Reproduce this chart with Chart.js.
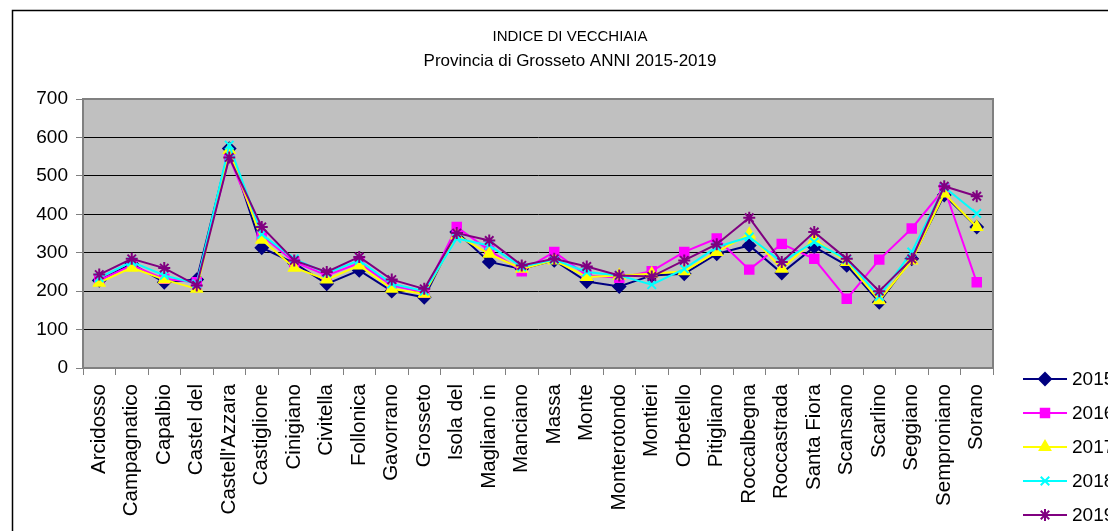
<!DOCTYPE html>
<html>
<head>
<meta charset="utf-8">
<script src="https://cdn.jsdelivr.net/npm/chart.js@4/dist/chart.umd.min.js"></script>
<style>
html, body { margin: 0; padding: 0; background: #fff; overflow: hidden; }
#wrap { width: 1108px; height: 531px; }
</style>
</head>
<body>
<div id="wrap"><canvas id="chart" width="1108" height="531"></canvas></div>
<script>
const comuni = ['Arcidosso', 'Campagnatico', 'Capalbio', 'Castel del', "Castell'Azzara", 'Castiglione',
    'Cinigiano', 'Civitella', 'Follonica', 'Gavorrano', 'Grosseto', 'Isola del', 'Magliano in',
    'Manciano', 'Massa', 'Monte', 'Monterotondo', 'Montieri', 'Orbetello', 'Pitigliano',
    'Roccalbegna', 'Roccastrada', 'Santa Fiora', 'Scansano', 'Scarlino', 'Seggiano',
    'Semproniano', 'Sorano'];
const anni = ['2015', '2016', '2017', '2018', '2019'];
const yTicks = [0, 100, 200, 300, 400, 500, 600, 700];

const v2015 = [228, 271, 223, 230, 571, 313, 273, 219, 254, 200, 184, 354, 276, 258, 280, 225, 212, 241, 245, 297, 319, 247, 315, 267, 171, 284, 450, 367];
const v2016 = [228, 267, 232, 223, 548, 345, 276, 241, 273, 215, 196, 367, 306, 252, 302, 241, 235, 252, 302, 337, 256, 323, 284, 180, 282, 363, 467, 223];
const v2017 = [222, 261, 230, 206, 567, 334, 261, 230, 267, 206, 193, 345, 297, 258, 280, 237, 241, 245, 252, 302, 348, 258, 334, 276, 176, 280, 454, 367];
const v2018 = [235, 276, 241, 219, 580, 348, 284, 247, 280, 219, 200, 337, 319, 263, 282, 250, 241, 217, 258, 315, 341, 276, 328, 282, 186, 302, 471, 402];
const v2019 = [243, 284, 260, 215, 548, 367, 280, 250, 289, 230, 206, 351, 332, 267, 284, 264, 241, 238, 280, 322, 391, 276, 354, 284, 200, 284, 473, 447];

const serie = [v2015, v2016, v2017, v2018, v2019];
const colori = ['#000080', '#FF00FF', '#FFFF00', '#00FFFF', '#800080'];
const simboli = ['rectRot', 'rect', 'triangle', 'crossRot', 'star'];

const FONT = "'Liberation Sans', Arial, sans-serif";

// sfondo, bordo esterno, titolo, legenda
const cornice = {
    id: 'cornice',
    beforeDraw(chart) {
        const ctx = chart.ctx;
        const a = chart.chartArea;
        ctx.save();
        ctx.fillStyle = '#fff';
        ctx.fillRect(0, 0, chart.width, chart.height);
        ctx.strokeStyle = '#000';
        ctx.lineWidth = 1.5;
        ctx.strokeRect(12.5, 10.5, 2000, 2000);
        ctx.fillStyle = '#C0C0C0';
        ctx.fillRect(a.left, a.top, a.right - a.left, a.bottom - a.top);
        ctx.restore();
    },
    afterDraw(chart) {
        const ctx = chart.ctx;
        const a = chart.chartArea;
        ctx.save();
        ctx.strokeStyle = '#808080';
        ctx.lineWidth = 2;
        ctx.strokeRect(a.left, a.top, a.right - a.left, a.bottom - a.top);

        ctx.fillStyle = '#000';
        ctx.textAlign = 'center';
        ctx.textBaseline = 'middle';
        ctx.font = '15px ' + FONT;
        ctx.fillText('INDICE DI VECCHIAIA', 570, 37);
        ctx.font = '17px ' + FONT;
        ctx.fillText('Provincia di Grosseto ANNI 2015-2019', 570, 61);

        ctx.textAlign = 'left';
        ctx.font = '19px ' + FONT;
        chart.data.datasets.forEach((ds, i) => {
            const y = 379 + i * 34;
            ctx.strokeStyle = ds.borderColor;
            ctx.fillStyle = ds.borderColor;
            ctx.lineWidth = 2;
            ctx.beginPath();
            ctx.moveTo(1023, y);
            ctx.lineTo(1067, y);
            ctx.stroke();
            Chart.helpers.drawPoint(ctx, {pointStyle: ds.pointStyle, radius: 6, borderWidth: 2, rotation: 0}, 1045, y);
            ctx.fillStyle = '#000';
            ctx.fillText(ds.label, 1072, y + 1);
        });
        ctx.restore();
    }
};

new Chart(document.getElementById('chart'), {
    type: 'line',
    data: {
        labels: comuni,
        datasets: anni.map((anno, i) => ({
            label: anno,
            data: serie[i],
            borderColor: colori[i],
            backgroundColor: colori[i],
            borderWidth: 2,
            pointStyle: simboli[i],
            pointRadius: 6,
            pointBorderWidth: 2,
            tension: 0,
            order: 5 - i
        }))
    },
    options: {
        responsive: false,
        devicePixelRatio: 1,
        animation: false,
        layout: { padding: { left: 0, top: 99, right: 115, bottom: 0 } },
        plugins: {
            legend: { display: false },
            title: { display: false },
            tooltip: { enabled: false }
        },
        scales: {
            x: {
                offset: true,
                afterFit(scale) { scale.height = 163; },
                border: { color: '#808080', width: 2 },
                grid: { offset: true, drawOnChartArea: false, color: '#808080', tickLength: 7 },
                ticks: {
                    minRotation: 90, maxRotation: 90, autoSkip: false,
                    color: '#000', padding: 9,
                    font: { family: FONT, size: 20.5 }
                }
            },
            y: {
                min: 0, max: 700,
                afterFit(scale) { scale.width = 83; },
                afterBuildTicks(scale) { scale.ticks = yTicks.map(v => ({ value: v })); },
                border: { color: '#808080', width: 2 },
                grid: { color: '#000', lineWidth: 1, tickLength: 7, tickColor: '#808080' },
                ticks: {
                    color: '#000', padding: 8,
                    font: { family: FONT, size: 19 }
                }
            }
        }
    },
    plugins: [cornice]
});
</script>
</body>
</html>
